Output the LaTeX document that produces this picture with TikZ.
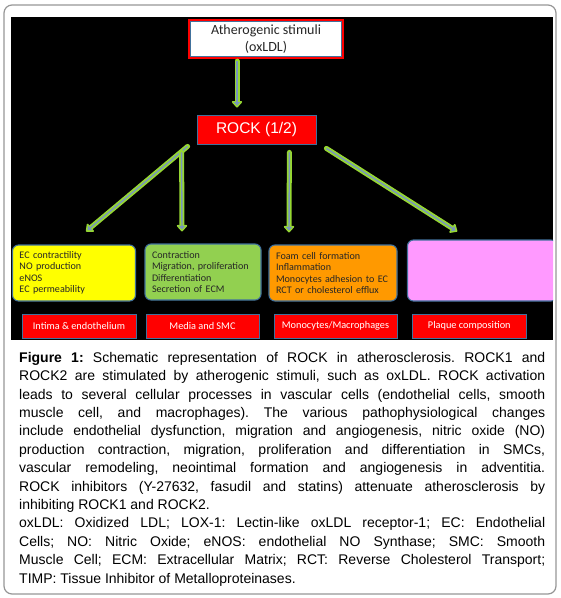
\documentclass[tikz,border=0pt]{standalone}
\usepackage{fontspec}
\setmainfont{Liberation Sans}
\newfontfamily\calibri{Carlito}
\usetikzlibrary{arrows.meta,positioning}

\begin{document}
\begin{tikzpicture}[x=1pt, y=-1pt,
  effect/.style={draw=cBoxBlue, line width=1.1pt, rounded corners=6pt, minimum height=56pt,
    inner xsep=7pt, align=left, text=black!85, font=\calibri\fontsize{10.1}{11.5}\selectfont},
  site/.style={draw=cBoxBlue, line width=0.8pt, fill=red, minimum height=24pt,
    text=white, font=\calibri\fontsize{10.3}{12}\selectfont},
  flow/.style={draw=cArrowBlue, line width=1.4pt, shorten >=2pt, -{Triangle[length=3.5pt,width=6pt]},
    preaction={draw=cArrowGreen, line width=5pt, line cap=round, shorten >=0pt,
      -{Triangle[length=7pt,width=12pt,round]}}}]
  % Colours of the panels
  \definecolor{cYellow}{RGB}{255, 255, 0}
  \definecolor{cGreen}{RGB}{146, 208, 80}
  \definecolor{cOrange}{RGB}{255, 153, 0}
  \definecolor{cPink}{RGB}{255, 153, 255}
  \definecolor{cBoxBlue}{RGB}{65, 113, 156}
  \definecolor{cArrowGreen}{RGB}{150, 215, 50}
  \definecolor{cArrowBlue}{RGB}{120, 150, 190}
  \definecolor{cFrame}{RGB}{150, 150, 150}

  % Page size
  \useasboundingbox (0,0) rectangle (561,598);

  % Outer frame of the figure
  \draw[cFrame, line width=1.2pt, rounded corners=8pt] (4,5) rectangle (556,594);

  \begin{scope}
    \clip (11,17) rectangle (553,340);
    % Black panel
    \fill[black] (11,17) rectangle (553,340);

    % Stimulus and kinase
    \node[draw=cBoxBlue, line width=0.8pt, fill=white, minimum width=151pt, minimum height=35pt,
      preaction={draw=red, line width=5pt, rounded corners=3pt}, align=center,
      text=black!85, font=\calibri\fontsize{14}{17}\selectfont] (stim) at (266,39)
      {Atherogenic stimuli\\(oxLDL)};
    \node[draw=cBoxBlue, line width=0.8pt, fill=red, minimum width=119pt, minimum height=29pt,
      text=white, font=\fontsize{15.5}{18}\selectfont] (rock) at (256.5,129.5) {ROCK (1/2)};

    % Cellular processes
    \node[effect, fill=cYellow, text width=109pt] (intima) at (74,273)
      {EC contractility\\NO production\\eNOS\\EC permeability};
    \node[effect, fill=cGreen, text width=102pt] (media) at (203,272)
      {Contraction\\Migration, proliferation\\Differentiation\\Secretion of ECM};
    \node[effect, fill=cOrange, text width=114pt] (mono) at (333,273)
      {Foam cell formation\\Inflammation\\Monocytes adhesion to EC\\RCT or cholesterol efflux};
    \node[effect, fill=cPink, text width=135.5pt, minimum height=61pt] (plaque) at (482.25,270.5) {};

    % Vessel compartments
    \node[site, minimum width=114pt] (lIntima) at (79,326) {Intima \& endothelium};
    \node[site, minimum width=113pt] (lMedia) at (202.5,326) {Media and SMC};
    \node[site, minimum width=123pt] (lMono) at (335.5,326) {Monocytes/Macrophages};
    \node[site, minimum width=113.4pt] (lPlaque) at (469.3,326) {Plaque composition};

    % Arrows
    \draw[flow] ([shift={(-29,4)}]stim.south) -- ([shift={(-19.5,-7)}]rock.north);
    \draw[flow] ([shift={(-9,2)}]rock.south west) -- ([shift={(12,-13)}]intima.north);
    \draw[flow] ([shift={(-15,8)}]rock.south west) -- ([shift={(-21,-12)}]media.north);
    \draw[flow] ([shift={(-27,8)}]rock.south east) -- ([shift={(-44,-12)}]mono.north);
    \draw[flow] ([shift={(10,4)}]rock.south east) -- ([shift={(-25,-8)}]plaque.north);
  \end{scope}

  % Caption
  \node[anchor=north west, text width=526pt, align=justify, inner sep=0pt,
    font=\fontsize{14}{18.4}\selectfont] (caption) at (19,352)
    {\frenchspacing\hyphenpenalty=10000\exhyphenpenalty=10000\tolerance=10000
    \textbf{Figure 1:} Schematic representation of ROCK in atherosclerosis. ROCK1 and\linebreak
    ROCK2 are stimulated by atherogenic stimuli, such as oxLDL. ROCK activation\linebreak
    leads to several cellular processes in vascular cells (endothelial cells, smooth\linebreak
    muscle cell, and macrophages). The various pathophysiological changes\linebreak
    include endothelial dysfunction, migration and angiogenesis, nitric oxide (NO)\linebreak
    production contraction, migration, proliferation and differentiation in SMCs,\linebreak
    vascular remodeling, neointimal formation and angiogenesis in adventitia.\linebreak
    ROCK inhibitors (Y-27632, fasudil and statins) attenuate atherosclerosis by\linebreak
    inhibiting ROCK1 and ROCK2.\par
    oxLDL: Oxidized LDL; LOX-1: Lectin-like oxLDL receptor-1; EC: Endothelial\linebreak
    Cells; NO: Nitric Oxide; eNOS: endothelial NO Synthase; SMC: Smooth\linebreak
    Muscle Cell; ECM: Extracellular Matrix; RCT: Reverse Cholesterol Transport;\linebreak
    TIMP: Tissue Inhibitor of Metalloproteinases.};
\end{tikzpicture}
\end{document}
